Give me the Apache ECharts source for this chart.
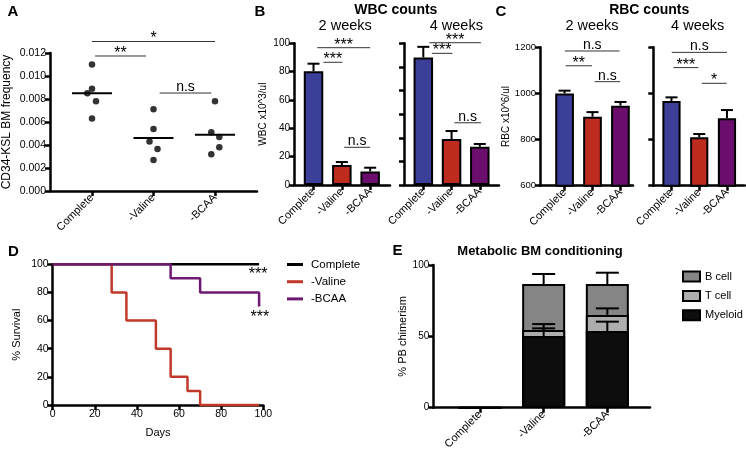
<!DOCTYPE html>
<html><head><meta charset="utf-8">
<script src="https://cdn.jsdelivr.net/npm/echarts@6/dist/echarts.min.js"></script>
<style>html,body{margin:0;padding:0;background:#fff}#c{width:746px;height:452px}</style>
</head><body><div id="c"></div>
<script>
// ---------- data ----------
const groups = ['Complete', '-Valine', '-BCAA'];
const groupPos = [1, 2, 3];
const groupColors = ['#3b3f98', '#be2b1f', '#6b0e6e'];

// A: CD34-KSL BM frequency (x = group position with jitter)
const aComplete = [[1, 0.0110], [1, 0.0089], [0.924, 0.0085], [1.065, 0.0078], [1, 0.0063]];
const aValine = [[2, 0.0071], [2, 0.0054], [1.935, 0.0043], [2.065, 0.00365], [2, 0.0027]];
const aBCAA = [[3, 0.0078], [2.94, 0.0051], [3.07, 0.0047], [3.07, 0.0038], [2.94, 0.0032]];
const aMeans = [0.0085, 0.0046, 0.0049];
const sigA = [[1.0, 3.0, 0.0130, '*'], [1.05, 1.88, 0.01174, '**'], [2.1, 2.94, 0.00852, 'n.s']];

// B: WBC counts
const wbc2 = [80.3, 14.1, 9.6];
const wbc2Err = [5.3, 2.1, 2.6];
const wbc4 = [108, 38.9, 32.4];
const wbc4Err = [9, 6.8, 2.3];
const sigB2 = [[1.13, 3.0, 96.9, '***'], [1.35, 2.02, 86.6, '***'], [2.08, 3.0, 26.6, 'n.s']];
const sigB4 = [[1.21, 3.04, 120.5, '***'], [1.3, 2.03, 111.5, '***'], [2.1, 3.04, 52.7, 'n.s']];

// C: RBC counts
const rbc2 = [1000, 899, 947];
const rbc2Err = [12, 20, 16];
const rbc4 = [967, 810, 892];
const rbc4Err = [16, 14, 36];
const sigC2 = [[1.01, 2.97, 1184, 'n.s'], [1.04, 1.98, 1120, '**'], [2.08, 2.99, 1051, 'n.s']];
const sigC4 = [[1.01, 3.0, 1178, 'n.s'], [1.07, 1.97, 1112, '***'], [2.09, 2.99, 1044, '*']];

// D: survival (day, % survival)
const survComplete = [[0, 100], [98, 100]];
const survValine = [[0, 100], [28, 80], [35, 60], [49, 40], [56, 20], [64, 10], [70, 0], [98, 0]];
const survBCAA = [[0, 100], [56, 90], [70, 80], [98, 70]];
const survNotes = [[97.5, 92.6, '***'], [98.4, 61.8, '***']];

// E: PB chimerism (stacked: Myeloid bottom, T cell, B cell top)
const eMyeloid = [0, 50.2, 53.7];
const eTcell = [0, 4.2, 11.3];
const eBcell = [0, 32.3, 21.7];
const eMyeloidErr = [0, 5.4, 6.6];
const eTcellErr = [0, 4.2, 4.6];
const eBcellErr = [0, 7.0, 7.9];

// ---------- helpers ----------
const FF = "'Liberation Sans', Arial, Helvetica, sans-serif";
const AX = { color: '#000', width: 2.5 };

function catX(gi, min, max) {
  return {
    type: 'value', gridIndex: gi, min: min, max: max,
    axisLine: { show: true, onZero: false, lineStyle: AX },
    axisTick: { show: true, customValues: groupPos, length: 5, lineStyle: AX },
    axisLabel: { show: true, customValues: groupPos, rotate: 45, margin: 5,
      formatter: v => groups[Math.round(v) - 1], fontSize: 11, color: '#000', fontFamily: FF },
    splitLine: { show: false }
  };
}
function valY(gi, min, max, interval, labels, fmt, name, gap, nameSize, labelSize) {
  return {
    type: 'value', gridIndex: gi, min: min, max: max, interval: interval,
    axisLine: { show: true, onZero: false, lineStyle: AX },
    axisTick: { show: true, length: 5, lineStyle: AX },
    axisLabel: { show: labels, fontSize: labelSize || 10.5, color: '#000', fontFamily: FF, margin: 4,
      formatter: fmt || (v => String(v)) },
    splitLine: { show: false },
    name: name || '', nameLocation: 'middle', nameGap: gap || 30,
    nameTextStyle: { fontSize: nameSize || 11, color: '#000', fontFamily: FF }
  };
}
function barSeries(gi, vals, bw) {
  return {
    type: 'bar', name: 'bar' + gi, xAxisIndex: gi, yAxisIndex: gi, barWidth: bw, z: 2,
    data: vals.map((v, i) => ({ value: [groupPos[i], v], itemStyle: { color: groupColors[i] } })),
    itemStyle: { borderColor: '#000', borderWidth: 2 }, clip: true
  };
}
function errSeries(gi, bases, errs, capHalf) {
  return {
    type: 'custom', xAxisIndex: gi, yAxisIndex: gi, z: 5, silent: true,
    data: bases.map((b, i) => [groupPos[i], b, errs[i]]),
    renderItem: (params, api) => {
      const e = api.value(2);
      if (!e) return null;
      const p0 = api.coord([api.value(0), api.value(1)]);
      const p1 = api.coord([api.value(0), api.value(1) + e]);
      return { type: 'group', children: [
        { type: 'line', shape: { x1: p0[0], y1: p0[1], x2: p1[0], y2: p1[1] }, style: { stroke: '#000', lineWidth: 2 } },
        { type: 'line', shape: { x1: p1[0] - capHalf, y1: p1[1], x2: p1[0] + capHalf, y2: p1[1] }, style: { stroke: '#000', lineWidth: 2 } }
      ] };
    }
  };
}
function sigSeries(gi, list) {
  return {
    type: 'custom', xAxisIndex: gi, yAxisIndex: gi, z: 6, silent: true, clip: false,
    data: list.map(s => [s[0], s[1], s[2]]),
    encode: { x: [0, 1], y: 2 },
    renderItem: (params, api) => {
      const s = list[params.dataIndex];
      const a = api.coord([s[0], s[2]]);
      const b = api.coord([s[1], s[2]]);
      const star = s[3].indexOf('*') >= 0;
      return { type: 'group', children: [
        { type: 'line', shape: { x1: a[0], y1: a[1], x2: b[0], y2: b[1] }, style: { stroke: '#333', lineWidth: 1 } },
        { type: 'text', x: (a[0] + b[0]) / 2, y: a[1] + (star ? 5.5 : 1.2),
          style: { text: s[3], fill: '#000', font: (star ? '16px ' : '14px ') + FF,
            align: 'center', verticalAlign: 'bottom', textAlign: 'center', textVerticalAlign: 'bottom' } }
      ] };
    }
  };
}
function txt(t, x, y, size, bold, align) {
  return { type: 'text', x: x, y: y, silent: true,
    style: { text: t, fill: '#000', font: (bold ? 'bold ' : '') + size + 'px ' + FF,
      align: align || 'center', verticalAlign: 'middle', textAlign: align || 'center', textVerticalAlign: 'middle' } };
}

// cumulative tops of the stacked bars in E (k = 0 myeloid, 1 +T cell, 2 +B cell)
const eLayers = [eMyeloid, eTcell, eBcell];
const stackTop = (i, k) => eLayers.slice(0, k + 1).reduce((s, arr) => s + arr[i], 0);
function eBar(name, k, color) {
  return { type: 'bar', name: name, xAxisIndex: 6, yAxisIndex: 6, barWidth: 43, barGap: '-100%', z: 2,
    data: groupPos.map((x, i) => [x, stackTop(i, k)]),
    itemStyle: { color: color, borderColor: '#000', borderWidth: 2 } };
}

// ---------- option ----------
const option = {
  animation: false,
  backgroundColor: '#fff',
  grid: [
    { left: 50, top: 53, width: 207, height: 138 },
    { left: 294, top: 43.3, width: 96, height: 141.7 },
    { left: 404, top: 43.3, width: 95, height: 141.7 },
    { left: 540, top: 47.3, width: 93, height: 138.4 },
    { left: 653.3, top: 47.3, width: 91.7, height: 138.4 },
    { left: 52.7, top: 264.3, width: 210.6, height: 140.7 },
    { left: 433.3, top: 265, width: 216.7, height: 142.7 }
  ],
  xAxis: [
    catX(0, 0.317, 3.683),
    catX(1, 0.311, 3.70),
    catX(2, 0.316, 3.68),
    catX(3, 0.12, 3.45),
    catX(4, 0.345, 3.65),
    { type: 'value', gridIndex: 5, min: 0, max: 100, interval: 20,
      axisLine: { show: true, onZero: false, lineStyle: AX },
      axisTick: { show: true, length: 5, lineStyle: AX },
      axisLabel: { fontSize: 10.5, color: '#000', fontFamily: FF, margin: 4 },
      splitLine: { show: false },
      name: 'Days', nameLocation: 'middle', nameGap: 22,
      nameTextStyle: { fontSize: 11, color: '#000', fontFamily: FF } },
    catX(6, 0.267, 3.67)
  ],
  yAxis: [
    valY(0, 0, 0.012, 0.002, true, v => v.toFixed(3), 'CD34-KSL BM frequency', 37, 12, 10.5),
    valY(1, 0, 100, 20, true, null, 'WBC x10^3/ul', 26, 10, 10),
    valY(2, 0, 120, 20, false),
    valY(3, 600, 1200, 200, true, null, 'RBC x10^6/ul', 28, 10, 9.5),
    valY(4, 600, 1200, 200, false),
    valY(5, 0, 100, 20, true, null, '% Survival', 30, 11, 10.5),
    valY(6, 0, 100, 50, true, null, '% PB chimerism', 25, 11, 10)
  ],
  legend: [
    { orient: 'vertical', left: 287, top: 258.5, padding: 0, itemWidth: 16, itemHeight: 3, itemGap: 5.2, icon: 'rect',
      data: ['Complete', '-Valine', '-BCAA'], selectedMode: false,
      textStyle: { fontSize: 11.5, color: '#000', fontFamily: FF, padding: [0, 0, 0, 3] } },
    { orient: 'vertical', left: 682, top: 270.5, padding: 0, itemWidth: 17, itemHeight: 10, itemGap: 7.4, icon: 'rect',
      data: ['B cell', 'T cell', 'Myeloid'], selectedMode: false,
      textStyle: { fontSize: 11, color: '#000', fontFamily: FF } }
  ],
  graphic: [
    txt('A', 13, 12, 15, true),
    txt('B', 260, 12, 15, true),
    txt('C', 501, 12, 15, true),
    txt('D', 13.5, 252, 15, true),
    txt('E', 397.5, 251, 15, true),
    txt('WBC counts', 395.8, 10.5, 14, true),
    txt('2 weeks', 345.2, 25.5, 14.5, false),
    txt('4 weeks', 456.3, 25.5, 14.5, false),
    txt('RBC counts', 649.2, 10.5, 14, true),
    txt('2 weeks', 592, 25.5, 14.5, false),
    txt('4 weeks', 697.7, 25.5, 14.5, false),
    txt('Metabolic BM conditioning', 540, 251.5, 13, true)
  ],
  series: [
    // A
    { type: 'scatter', name: 'aC', xAxisIndex: 0, yAxisIndex: 0, data: aComplete, symbolSize: 6.5, itemStyle: { color: '#000' } },
    { type: 'scatter', name: 'aV', xAxisIndex: 0, yAxisIndex: 0, data: aValine, symbolSize: 6.5, itemStyle: { color: '#000' } },
    { type: 'scatter', name: 'aB', xAxisIndex: 0, yAxisIndex: 0, data: aBCAA, symbolSize: 6.5, itemStyle: { color: '#000' } },
    { type: 'custom', xAxisIndex: 0, yAxisIndex: 0, silent: true, z: 4,
      data: aMeans.map((m, i) => [groupPos[i], m]),
      renderItem: (params, api) => {
        const p = api.coord([api.value(0), api.value(1)]);
        return { type: 'line', shape: { x1: p[0] - 20, y1: p[1], x2: p[0] + 20, y2: p[1] }, style: { stroke: '#000', lineWidth: 2 } };
      } },
    sigSeries(0, sigA),
    // B
    barSeries(1, wbc2, 19.5), errSeries(1, wbc2, wbc2Err, 6), sigSeries(1, sigB2),
    barSeries(2, wbc4, 19.5), errSeries(2, wbc4, wbc4Err, 6), sigSeries(2, sigB4),
    // C
    barSeries(3, rbc2, 18.7), errSeries(3, rbc2, rbc2Err, 6), sigSeries(3, sigC2),
    barSeries(4, rbc4, 18.2), errSeries(4, rbc4, rbc4Err, 6), sigSeries(4, sigC4),
    // D
    { type: 'line', name: 'Complete', xAxisIndex: 5, yAxisIndex: 5, data: survComplete, step: 'end', symbol: 'none',
      lineStyle: { color: '#000', width: 2.5 }, itemStyle: { color: '#000' }, z: 3, clip: false },
    { type: 'line', name: '-Valine', xAxisIndex: 5, yAxisIndex: 5, data: survValine, step: 'end', symbol: 'none',
      lineStyle: { color: '#c0392b', width: 2.5 }, itemStyle: { color: '#c0392b' }, z: 4, clip: false },
    { type: 'line', name: '-BCAA', xAxisIndex: 5, yAxisIndex: 5, data: survBCAA, step: 'end', symbol: 'none',
      lineStyle: { color: '#6e1a73', width: 2.5 }, itemStyle: { color: '#6e1a73' }, z: 5, clip: false },
    { type: 'custom', xAxisIndex: 5, yAxisIndex: 5, silent: true, clip: false, z: 6,
      data: survNotes.map(n => [n[0], n[1]]),
      renderItem: (params, api) => {
        const p = api.coord([api.value(0), api.value(1)]);
        return { type: 'text', x: p[0], y: p[1], style: { text: survNotes[params.dataIndex][2], fill: '#000',
          font: '16px ' + FF, align: 'center', verticalAlign: 'middle', textAlign: 'center', textVerticalAlign: 'middle' } };
      } },
    // E (drawn back to front: full stack, then lower layers on top)
    eBar('B cell', 2, '#858585'),
    eBar('T cell', 1, '#adadad'),
    eBar('Myeloid', 0, '#0d0d0d'),
    errSeries(6, groupPos.map((x, i) => stackTop(i, 0)), eMyeloidErr, 11.5),
    errSeries(6, groupPos.map((x, i) => stackTop(i, 1)), eTcellErr, 11.5),
    errSeries(6, groupPos.map((x, i) => stackTop(i, 2)), eBcellErr, 11.5)
  ]
};

const chart = echarts.init(document.getElementById('c'), null, { renderer: 'canvas' });
chart.setOption(option);
</script>
</body></html>
